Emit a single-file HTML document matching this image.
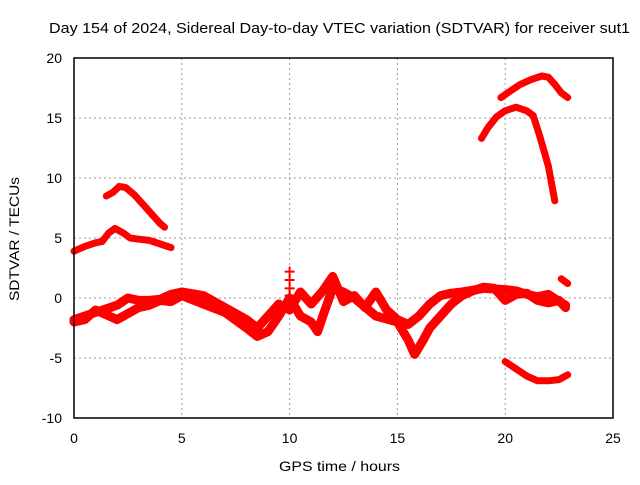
<!DOCTYPE html>
<html><head><meta charset="utf-8"><style>body{margin:0;background:#fff}svg{font-family:"Liberation Sans",sans-serif}</style></head>
<body>
<svg id="c" width="640" height="480">
<text x="339.5" y="33" font-size="15" text-anchor="middle" textLength="581" lengthAdjust="spacingAndGlyphs">Day 154 of 2024, Sidereal Day-to-day VTEC variation (SDTVAR) for receiver sut1</text>
<text x="339.5" y="471" font-size="14" text-anchor="middle" textLength="121" lengthAdjust="spacingAndGlyphs">GPS time / hours</text>
<text transform="translate(19,239) rotate(-90)" font-size="14" text-anchor="middle" textLength="124" lengthAdjust="spacingAndGlyphs">SDTVAR / TECUs</text>
<g id="grid"></g><g id="marks"></g>
<rect x="74" y="58" width="539" height="360" fill="none" stroke="#000" stroke-width="1.5"/>
</svg>
<script>
const xTicks=[0,5,10,15,20,25];
const yTicks=[-10,-5,0,5,10,15,20];
const seriesA=[[1.5,8.5],[1.8,8.8],[2.1,9.3],[2.4,9.2],[2.8,8.6],[3.2,7.8],[3.6,7],[4.0,6.2],[4.2,5.9]];
const seriesB=[[0,3.9],[0.5,4.3],[1.0,4.6],[1.3,4.7],[1.6,5.4],[1.9,5.8],[2.3,5.4],[2.6,5.0],[3.0,4.9],[3.5,4.8],[4.0,4.5],[4.5,4.2]];
const seriesC=[[0,-1.8],[0.5,-1.5],[1,-1.2],[1.5,-0.9],[2,-0.6],[2.5,0],[3,-0.2],[3.5,-0.2],[4,-0.1],[4.5,0.3],[5,0.5],[6,0.2],[7,-0.8],[8,-1.8],[8.5,-2.5],[9,-1.5],[9.5,-0.5],[10,-1],[10.5,0.5],[11,-0.5],[11.5,0.5],[12,1.8],[12.5,-0.3],[13,0.2],[13.5,-0.8],[14,0.5],[14.5,-1.0],[15,-1.8],[15.5,-2.2],[16,-1.5],[16.5,-0.5],[17,0.2],[17.5,0.4],[18,0.5],[19,0.8],[20,0.7],[20.5,0.6],[21,0.3],[21.5,0.1],[22,0.3],[22.5,-0.3],[22.8,-0.6]];
const seriesD=[[0,-2.0],[0.5,-1.8],[1,-1.0],[1.5,-1.4],[2,-1.8],[2.5,-1.3],[3,-0.8],[3.5,-0.6],[4,-0.2],[4.5,-0.3],[5,0.2],[6,-0.5],[7,-1.2],[8,-2.5],[8.5,-3.2],[9,-2.8],[9.5,-1.5],[10,0],[10.5,-1.5],[11,-2],[11.3,-2.8],[11.6,-1.2],[12,0.8],[12.5,0.5],[13,0],[14,-1.5],[15,-2.0],[15.5,-3.5],[15.8,-4.7],[16.2,-3.5],[16.5,-2.5],[17,-1.5],[17.5,-0.5],[18,0.2],[18.5,0.6],[19,0.9],[19.5,0.8],[20,-0.2],[20.5,0.3],[21,0.4],[21.5,-0.2],[22,-0.4],[22.5,-0.2],[22.8,-0.8]];
const seriesE=[[18.9,13.3],[19.2,14.2],[19.6,15.1],[20,15.6],[20.5,15.9],[21,15.6],[21.3,15.2],[21.6,13.5],[22,11],[22.3,8.1]];
const seriesF=[[19.8,16.7],[20.2,17.2],[20.7,17.8],[21.2,18.2],[21.7,18.5],[22.0,18.4],[22.3,17.8],[22.6,17.1],[22.9,16.7]];
const seriesG=[[20,-5.3],[20.5,-5.9],[21,-6.5],[21.5,-6.9],[22,-6.9],[22.5,-6.8],[22.9,-6.4]];
const seriesH=[[22.6,1.6],[22.9,1.2]];
const seriesI=[[10,2.2],[10,1.5],[10,0.8],[10,0.2]];
const X=t=>74+t*539/25, Y=v=>418-(v+10)*12;
const NS="http://www.w3.org/2000/svg";
const grid=document.getElementById('grid'), marks=document.getElementById('marks');
function mk(tag,attrs,parent){const e=document.createElementNS(NS,tag);for(const k in attrs)e.setAttribute(k,attrs[k]);parent.appendChild(e);return e;}
xTicks.forEach(t=>{
  if(t>0&&t<25){const g=mk('line',{x1:X(t),x2:X(t),y1:58,y2:418,stroke:'#999','stroke-dasharray':'2,3'},grid);
  
  }
  const l=mk('text',{x:X(t),y:443,'font-size':14,'text-anchor':'middle'},grid);l.textContent=t;
  
  
});
yTicks.forEach(v=>{
  if(v>-10&&v<20){const g=mk('line',{x1:74,x2:613,y1:Y(v),y2:Y(v),stroke:'#999','stroke-dasharray':'2,3'},grid);
  
  }
  const l=mk('text',{x:62,y:Y(v)+5,'font-size':14,'text-anchor':'end'},grid);l.textContent=v;
  
  
});
[seriesA,seriesB,seriesC,seriesD,seriesE,seriesF,seriesG,seriesH].forEach((s,i)=>{
  const p=mk('polyline',{points:s.map(d=>X(d[0])+','+Y(d[1])).join(' '),fill:'none',stroke:'#f00','stroke-width':(i==2||i==3)?9:7,'stroke-linejoin':'round','stroke-linecap':'round'},marks);
  
  
});
seriesI.forEach(d=>{
  const p=mk('path',{d:`M${X(d[0])-5},${Y(d[1])}h10M${X(d[0])},${Y(d[1])-5}v10`,stroke:'#f00','stroke-width':2},marks);
  
  
});
</script>
</body></html>
